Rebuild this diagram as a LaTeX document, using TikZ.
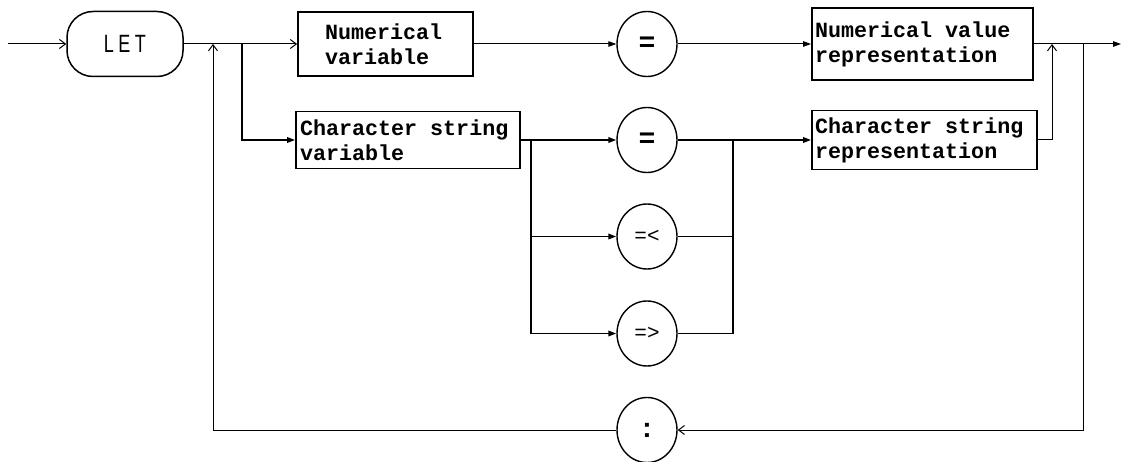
\documentclass[tikz,border=0pt]{standalone}
\usepackage{fontspec}
\setmainfont{Liberation Serif}
\newfontfamily\boxfont{Liberation Mono}
\newfontfamily\eqfont{Liberation Sans}
\newfontfamily\letfont[FakeStretch=0.72,LetterSpace=18]{Liberation Sans}
\newcommand\wsp{\hspace*{0.6em}}
\usetikzlibrary{arrows.meta,shapes.geometric}
\tikzset{
  thinline/.style={line width=1pt},
  thickline/.style={line width=1.7pt},
  openarr/.style={-{Straight Barb[length=6pt,width=9pt,line width=1pt]}},
  fillarr/.style={-{Triangle[length=8pt,width=5.5pt]}},
  bx/.style={draw, line width=1.8pt, inner ysep=0pt, align=left,
    font=\boxfont\bfseries\fontsize{21.7}{25}\selectfont},
  oval/.style={draw, ellipse, line width=1.4pt, minimum width=60pt,
    minimum height=65pt, inner sep=0pt},
  ovalbold/.style={font=\eqfont\bfseries\fontsize{28}{28}\selectfont},
  ovalthin/.style={font=\boxfont\fontsize{21}{21}\selectfont},
}
\begin{document}
\begin{tikzpicture}[x=1pt,y=-1pt]
\useasboundingbox (0,0) rectangle (1122,462);
% nodes
\node[draw, line width=1.5pt, rounded corners=26pt, minimum width=116pt,
  minimum height=65pt, font=\letfont\fontsize{25}{25}\selectfont] (let) at (125,44) {LET};
\node[bx, minimum height=64pt, text width=121pt, inner xsep=27pt] (numvar) at (385.5,44) {Numerical\\variable};
\node[bx, minimum height=57pt, text width=216pt, inner xsep=4pt] (charvar) at (408,140) {Character\wsp string\\variable};
\node[bx, minimum height=72pt, text width=215pt, inner xsep=3pt] (numval) at (922.5,44) {Numerical\wsp value\\representation};
\node[bx, minimum height=59pt, text width=219pt, inner xsep=3pt] (charrep) at (924.5,140) {Character\wsp string\\representation};
\node[oval, ovalbold] (eq1) at (647,44) {=};
\node[oval, ovalbold] (eq2) at (647,140) {=};
\node[oval, ovalthin] (le) at (647,236.5) {=<};
\node[oval, ovalthin] (ge) at (647,333.5) {=>};
\node[oval, ovalbold] (colon) at (647,430) {:};
% coordinates
\coordinate (start) at (8,44);
\coordinate (exit) at (1121,44);
\coordinate (loopup) at (213,44);
\coordinate (br) at (242,44);
\coordinate (cvb) at (531,140);
\coordinate (mg) at (733,140);
\coordinate (up) at (1052,44);
\coordinate (ret) at (1083,44);
% connectors
\draw[thinline, openarr] (start) -- (let.west);
\draw[thinline, openarr] (let.east) -- (numvar.west);
\draw[thinline, openarr] (colon.west) -| (loopup);
\draw[thickline, fillarr] (br) |- (charvar.west);
\draw[thinline, fillarr] (numvar.east) -- (eq1.west);
\draw[thinline, fillarr] (eq1.east) -- (numval.west);
\draw[thickline, fillarr] (charvar.east) -- (eq2.west);
\draw[thickline, fillarr] (cvb) |- (le.west);
\draw[thickline, fillarr] (cvb) |- (ge.west);
\draw[thickline, fillarr] (eq2.east) -- (charrep.west);
\draw[thinline] (le.east) -| (mg);
\draw[thickline] (ge.east) -| (mg);
\draw[thinline, openarr] (charrep.east) -| (up);
\draw[thinline, fillarr] (numval.east) -- (exit);
\draw[thinline, openarr] (ret) |- (colon.east);
\end{tikzpicture}
\end{document}
